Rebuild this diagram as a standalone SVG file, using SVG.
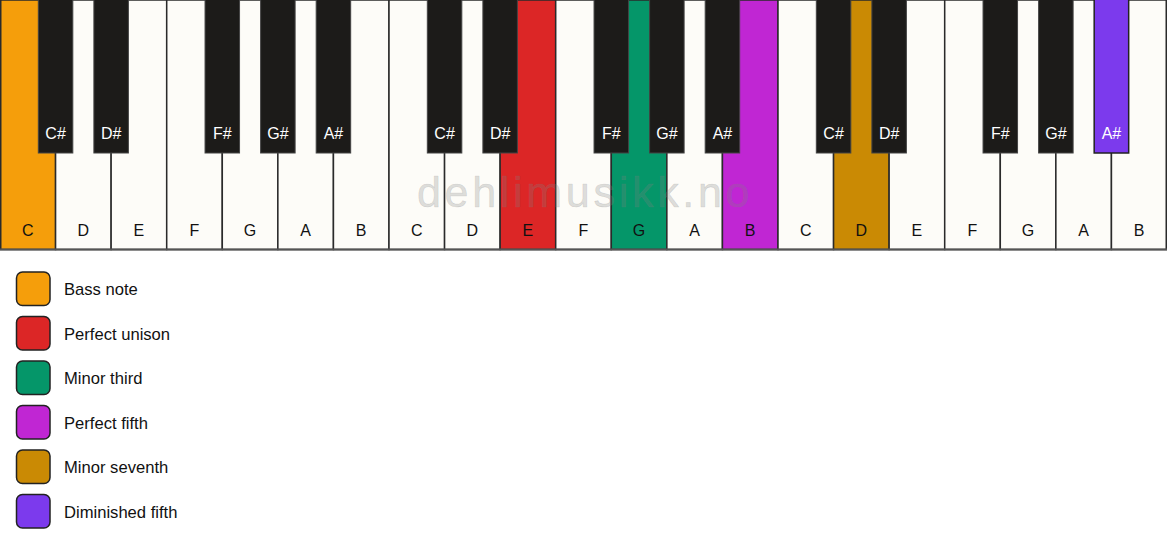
<svg xmlns="http://www.w3.org/2000/svg" width="1167" height="550" viewBox="0 0 1167 550">
<style>
.wk{fill:#fdfcf8;stroke:#2a2a2a;stroke-width:1.5}
.bk{fill:#1c1b19;stroke:#444;stroke-width:1}
.wl{font-family:"Liberation Sans",Arial,sans-serif;font-size:16px;fill:#111;text-anchor:middle}
.bl{font-family:"Liberation Sans",Arial,sans-serif;font-size:16px;fill:#fff;text-anchor:middle}
.lg{stroke:#222;stroke-width:1.5}
.lt{font-family:"Liberation Sans",Arial,sans-serif;font-size:16.6px;fill:#111}
.wm{font-family:"Liberation Sans",Arial,sans-serif;font-size:43px;letter-spacing:3.7px;fill:#808080;fill-opacity:0.25;stroke:#808080;stroke-opacity:0.25;stroke-width:0.6}
</style>
<rect x="0" y="0" width="1167" height="550" fill="#ffffff"/>
<g id="white-keys">
<g id="wk-0"><rect class="wk" x="0.75" y="0" width="54.82" height="249.5" style="fill:#f59e0b"/><text class="wl" x="27.79" y="236">C</text></g>
<g id="wk-1"><rect class="wk" x="55.57" y="0" width="55.57" height="249.5"/><text class="wl" x="83.36" y="236">D</text></g>
<g id="wk-2"><rect class="wk" x="111.14" y="0" width="55.57" height="249.5"/><text class="wl" x="138.93" y="236">E</text></g>
<g id="wk-3"><rect class="wk" x="166.71" y="0" width="55.57" height="249.5"/><text class="wl" x="194.5" y="236">F</text></g>
<g id="wk-4"><rect class="wk" x="222.29" y="0" width="55.57" height="249.5"/><text class="wl" x="250.07" y="236">G</text></g>
<g id="wk-5"><rect class="wk" x="277.86" y="0" width="55.57" height="249.5"/><text class="wl" x="305.64" y="236">A</text></g>
<g id="wk-6"><rect class="wk" x="333.43" y="0" width="55.57" height="249.5"/><text class="wl" x="361.21" y="236">B</text></g>
<g id="wk-7"><rect class="wk" x="389" y="0" width="55.57" height="249.5"/><text class="wl" x="416.79" y="236">C</text></g>
<g id="wk-8"><rect class="wk" x="444.57" y="0" width="55.57" height="249.5"/><text class="wl" x="472.36" y="236">D</text></g>
<g id="wk-9"><rect class="wk" x="500.14" y="0" width="55.57" height="249.5" style="fill:#dc2626"/><text class="wl" x="527.93" y="236">E</text></g>
<g id="wk-10"><rect class="wk" x="555.71" y="0" width="55.57" height="249.5"/><text class="wl" x="583.5" y="236">F</text></g>
<g id="wk-11"><rect class="wk" x="611.29" y="0" width="55.57" height="249.5" style="fill:#059669"/><text class="wl" x="639.07" y="236">G</text></g>
<g id="wk-12"><rect class="wk" x="666.86" y="0" width="55.57" height="249.5"/><text class="wl" x="694.64" y="236">A</text></g>
<g id="wk-13"><rect class="wk" x="722.43" y="0" width="55.57" height="249.5" style="fill:#c026d3"/><text class="wl" x="750.21" y="236">B</text></g>
<g id="wk-14"><rect class="wk" x="778" y="0" width="55.57" height="249.5"/><text class="wl" x="805.79" y="236">C</text></g>
<g id="wk-15"><rect class="wk" x="833.57" y="0" width="55.57" height="249.5" style="fill:#ca8a04"/><text class="wl" x="861.36" y="236">D</text></g>
<g id="wk-16"><rect class="wk" x="889.14" y="0" width="55.57" height="249.5"/><text class="wl" x="916.93" y="236">E</text></g>
<g id="wk-17"><rect class="wk" x="944.71" y="0" width="55.57" height="249.5"/><text class="wl" x="972.5" y="236">F</text></g>
<g id="wk-18"><rect class="wk" x="1000.29" y="0" width="55.57" height="249.5"/><text class="wl" x="1028.07" y="236">G</text></g>
<g id="wk-19"><rect class="wk" x="1055.86" y="0" width="55.57" height="249.5"/><text class="wl" x="1083.64" y="236">A</text></g>
<g id="wk-20"><rect class="wk" x="1111.43" y="0" width="54.82" height="249.5"/><text class="wl" x="1139.21" y="236">B</text></g>
<line x1="0" y1="249.5" x2="1167" y2="249.5" stroke="#555" stroke-width="2"/>
</g>
<g id="black-keys">
<g id="bk-1"><rect class="bk" x="38.32" y="-1" width="34.5" height="154"/><text class="bl" x="55.57" y="139">C#</text></g>
<g id="bk-2"><rect class="bk" x="93.89" y="-1" width="34.5" height="154"/><text class="bl" x="111.14" y="139">D#</text></g>
<g id="bk-4"><rect class="bk" x="205.04" y="-1" width="34.5" height="154"/><text class="bl" x="222.29" y="139">F#</text></g>
<g id="bk-5"><rect class="bk" x="260.61" y="-1" width="34.5" height="154"/><text class="bl" x="277.86" y="139">G#</text></g>
<g id="bk-6"><rect class="bk" x="316.18" y="-1" width="34.5" height="154"/><text class="bl" x="333.43" y="139">A#</text></g>
<g id="bk-8"><rect class="bk" x="427.32" y="-1" width="34.5" height="154"/><text class="bl" x="444.57" y="139">C#</text></g>
<g id="bk-9"><rect class="bk" x="482.89" y="-1" width="34.5" height="154"/><text class="bl" x="500.14" y="139">D#</text></g>
<g id="bk-11"><rect class="bk" x="594.04" y="-1" width="34.5" height="154"/><text class="bl" x="611.29" y="139">F#</text></g>
<g id="bk-12"><rect class="bk" x="649.61" y="-1" width="34.5" height="154"/><text class="bl" x="666.86" y="139">G#</text></g>
<g id="bk-13"><rect class="bk" x="705.18" y="-1" width="34.5" height="154"/><text class="bl" x="722.43" y="139">A#</text></g>
<g id="bk-15"><rect class="bk" x="816.32" y="-1" width="34.5" height="154"/><text class="bl" x="833.57" y="139">C#</text></g>
<g id="bk-16"><rect class="bk" x="871.89" y="-1" width="34.5" height="154"/><text class="bl" x="889.14" y="139">D#</text></g>
<g id="bk-18"><rect class="bk" x="983.04" y="-1" width="34.5" height="154"/><text class="bl" x="1000.29" y="139">F#</text></g>
<g id="bk-19"><rect class="bk" x="1038.61" y="-1" width="34.5" height="154"/><text class="bl" x="1055.86" y="139">G#</text></g>
<g id="bk-20"><rect class="bk" x="1094.18" y="-1" width="34.5" height="154" style="fill:#7c3aed;stroke:#222;stroke-width:1.5"/><text class="bl" x="1111.43" y="139">A#</text></g>
</g>
<text class="wm" x="417" y="207">dehlimusikk.no</text>
<g id="legend">
<g id="lg-bass"><rect class="lg" x="16.5" y="272" width="33.5" height="33.5" rx="6" fill="#f59e0b"/><text class="lt" x="64" y="295">Bass note</text></g>
<g id="lg-unison"><rect class="lg" x="16.5" y="316.5" width="33.5" height="33.5" rx="6" fill="#dc2626"/><text class="lt" x="64" y="339.5">Perfect unison</text></g>
<g id="lg-minor3"><rect class="lg" x="16.5" y="361" width="33.5" height="33.5" rx="6" fill="#059669"/><text class="lt" x="64" y="384">Minor third</text></g>
<g id="lg-fifth"><rect class="lg" x="16.5" y="405.5" width="33.5" height="33.5" rx="6" fill="#c026d3"/><text class="lt" x="64" y="428.5">Perfect fifth</text></g>
<g id="lg-minor7"><rect class="lg" x="16.5" y="450" width="33.5" height="33.5" rx="6" fill="#ca8a04"/><text class="lt" x="64" y="473">Minor seventh</text></g>
<g id="lg-dim5"><rect class="lg" x="16.5" y="494.5" width="33.5" height="33.5" rx="6" fill="#7c3aed"/><text class="lt" x="64" y="517.5">Diminished fifth</text></g>
</g>
<g id="connectors"/>
</svg>
